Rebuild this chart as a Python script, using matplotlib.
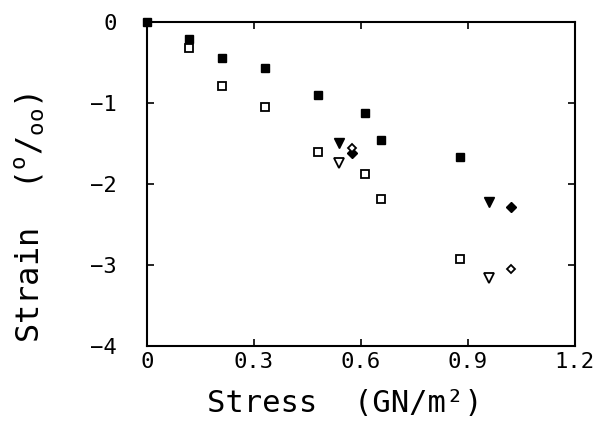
import matplotlib
matplotlib.use("Agg")
import matplotlib.pyplot as plt

plt.rcParams['font.family'] = ['DejaVu Sans Mono']
plt.rcParams['mathtext.fontset'] = 'custom'
plt.rcParams['mathtext.rm'] = 'DejaVu Sans Mono'
plt.rcParams['mathtext.it'] = 'DejaVu Sans Mono'

# Data (stress GN/m^2, strain per mille)
sq_filled_x = [0.0, 0.118, 0.21, 0.33, 0.48, 0.61, 0.656, 0.877]
sq_filled_y = [0.0, -0.21, -0.45, -0.57, -0.90, -1.12, -1.46, -1.67]
sq_open_x = [0.118, 0.21, 0.33, 0.48, 0.61, 0.656, 0.877]
sq_open_y = [-0.32, -0.79, -1.05, -1.61, -1.88, -2.18, -2.93]
tri_filled_x = [0.538, 0.958]
tri_filled_y = [-1.49, -2.22]
tri_open_x = [0.538, 0.958]
tri_open_y = [-1.74, -3.16]
dia_filled_x = [0.575, 1.02]
dia_filled_y = [-1.62, -2.28]
dia_open_x = [0.575, 1.02]
dia_open_y = [-1.56, -3.05]

xticks = [0, 0.3, 0.6, 0.9, 1.2]
xticklabels = ['0', '0.3', '0.6', '0.9', '1.2']
yticks = [0, -1, -2, -3, -4]
yticklabels = ['0', '\u22121', '\u22122', '\u22123', '\u22124']

fig = plt.figure(figsize=(6.13, 4.21), dpi=100)
ax = fig.add_axes([0.2398, 0.178, 0.698, 0.770])

ms = 6
ax.plot(sq_filled_x, sq_filled_y, 's', color='black', ms=ms, clip_on=False)
ax.plot(sq_open_x, sq_open_y, 's', mfc='white', mec='black', mew=1.3, ms=ms, clip_on=False)
ax.plot(tri_filled_x, tri_filled_y, 'v', color='black', ms=ms + 1)
ax.plot(tri_open_x, tri_open_y, 'v', mfc='white', mec='black', mew=1.3, ms=ms + 1)
ax.plot(dia_filled_x, dia_filled_y, 'D', color='black', ms=ms - 1)
ax.plot(dia_open_x, dia_open_y, 'D', mfc='white', mec='black', mew=1.3, ms=ms - 1.5)

ax.set_xlim(0, 1.2)
ax.set_ylim(-4, 0)
ax.set_xticks(xticks)
ax.set_xticklabels(xticklabels)
ax.set_yticks(yticks)
ax.set_yticklabels(yticklabels)

ax.tick_params(direction='in', length=5, width=1.2, top=True, right=True, labelsize=16)
ax.tick_params(axis='y', pad=22)
ax.tick_params(axis='x', pad=4)
for s in ax.spines.values():
    s.set_linewidth(1.5)

ax.set_xlabel('Stress  (GN/m\u00b2)', fontsize=22, va='center')
ax.xaxis.set_label_coords(0.463, -0.176)
ax.set_ylabel(r'Strain  ($^\mathrm{o}/_\mathrm{oo}$)', fontsize=23, va='center')
ax.yaxis.set_label_coords(-0.273, 0.395)

fig.savefig('out.png', dpi=100)
